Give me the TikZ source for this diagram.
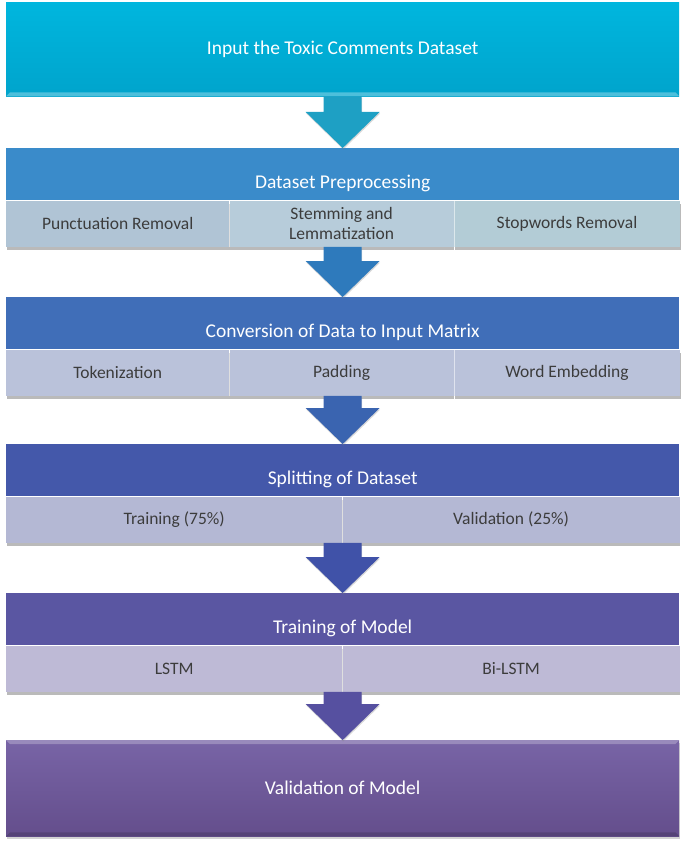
\documentclass[tikz,border=0pt]{standalone}
\usepackage{fontspec}
\setmainfont{Carlito}
\usepackage{tikz}
\usetikzlibrary{calc, positioning, shadows}

% Couleurs
\definecolor{bleuA}{RGB}{0,182,222}
\definecolor{bleuAb}{RGB}{0,164,204}
\definecolor{flecheA}{RGB}{30,160,196}
\definecolor{bleuB}{RGB}{58,139,202}
\definecolor{celB}{RGB}{176,196,213}
\definecolor{celBm}{RGB}{183,204,218}
\definecolor{celBd}{RGB}{179,204,214}
\definecolor{flecheB}{RGB}{46,122,188}
\definecolor{bleuC}{RGB}{64,110,184}
\definecolor{celC}{RGB}{186,194,218}
\definecolor{flecheC}{RGB}{58,100,176}
\definecolor{bleuD}{RGB}{68,88,170}
\definecolor{celD}{RGB}{180,184,212}
\definecolor{flecheD}{RGB}{64,82,168}
\definecolor{violetE}{RGB}{90,86,162}
\definecolor{celE}{RGB}{190,186,214}
\definecolor{flecheE}{RGB}{86,80,160}
\definecolor{violetF}{RGB}{120,100,166}
\definecolor{violetFb}{RGB}{100,78,140}
\definecolor{texteCel}{RGB}{60,60,60}

\tikzset{
  bloc/.style={anchor=north west, inner sep=0pt, minimum width=673pt, text=white,
    font=\fontsize{19.5}{23}\selectfont},
  entete/.style={bloc, minimum height=52pt, text height=29pt, text depth=0pt},
  cellule/.style={inner sep=0pt, minimum height=46pt, text=texteCel, align=center,
    font=\fontsize{17.5}{20}\selectfont,
    drop shadow={shadow xshift=0.5pt, shadow yshift=-3pt, fill=black!60, opacity=.45}},
  separation/.style={white, opacity=.55, line width=0.6pt}
}

% Fleche pleine entre deux blocs
\newcommand{\flecheBloc}[3]{
  \path let \p1=(#1.south), \p2=(#2.north) in
    [fill=#3, drop shadow={shadow xshift=0.5pt, shadow yshift=-1.5pt, opacity=.3}]
    (\x2-19pt,\y1) -- (\x2+19pt,\y1) -- (\x2+19pt,\y2+36pt) -- (\x2+37pt,\y2+36pt)
    -- (\x2,\y2) -- (\x2-37pt,\y2+36pt) -- (\x2-19pt,\y2+36pt) -- cycle;
}

\begin{document}
\begin{tikzpicture}[x=1pt, y=-1pt]
  \useasboundingbox (0,0) rectangle (685,845);

  % Blocs
  \node[bloc, minimum height=94pt, top color=bleuA, bottom color=bleuAb] (entree) at (6,2)
    {Input the Toxic Comments Dataset};

  \node[entete, fill=bleuB] (pretraitement) at (6,148) {Dataset Preprocessing};
  \node[cellule, fill=celB, minimum width=223pt, anchor=north west] (ponctuation)
    at (pretraitement.south west) {Punctuation Removal};
  \node[cellule, fill=celBm, minimum width=224pt, right=0pt of ponctuation] (racinisation)
    {Stemming and\\Lemmatization};
  \node[cellule, fill=celBd, minimum width=226pt, right=0pt of racinisation] (motsvides)
    {Stopwords Removal};

  \node[entete, fill=bleuC] (conversion) at (6,297) {Conversion of Data to Input Matrix};
  \node[cellule, fill=celC, minimum width=223pt, anchor=north west] (jetons)
    at (conversion.south west) {Tokenization};
  \node[cellule, fill=celC, minimum width=224pt, right=0pt of jetons] (remplissage) {Padding};
  \node[cellule, fill=celC, minimum width=226pt, right=0pt of remplissage] (plongement)
    {Word Embedding};

  \node[entete, fill=bleuD] (decoupage) at (6,444) {Splitting of Dataset};
  \node[cellule, fill=celD, minimum width=336pt, anchor=north west] (apprentissage)
    at (decoupage.south west) {Training (75\%)};
  \node[cellule, fill=celD, minimum width=337pt, right=0pt of apprentissage] (validation)
    {Validation (25\%)};

  \node[entete, fill=violetE] (entrainement) at (6,593) {Training of Model};
  \node[cellule, fill=celE, minimum width=336pt, anchor=north west] (lstm)
    at (entrainement.south west) {LSTM};
  \node[cellule, fill=celE, minimum width=337pt, right=0pt of lstm] (bilstm) {Bi-LSTM};

  \node[bloc, minimum height=96pt, top color=violetF, bottom color=violetFb,
    drop shadow={shadow xshift=0.5pt, shadow yshift=-3pt, opacity=.35}] (evaluation) at (6,740)
    {Validation of Model};

  % Separations des cellules
  \draw[separation] (ponctuation.north east) -- (ponctuation.south east);
  \draw[separation] (racinisation.north east) -- (racinisation.south east);
  \draw[separation] (jetons.north east) -- (jetons.south east);
  \draw[separation] (remplissage.north east) -- (remplissage.south east);
  \draw[separation] (apprentissage.north east) -- (apprentissage.south east);
  \draw[separation] (lstm.north east) -- (lstm.south east);

  % Reflets
  \fill[white, opacity=.3] (entree.south west) -- (entree.south east) -- ++(-4,-4)
    -- ($(entree.south west)+(4,-4)$) -- cycle;
  \fill[white, opacity=.25] (evaluation.north west) -- (evaluation.north east) -- ++(-4,4)
    -- ($(evaluation.north west)+(4,4)$) -- cycle;
  \fill[black, opacity=.15] (evaluation.south west) -- (evaluation.south east) -- ++(-4,-4)
    -- ($(evaluation.south west)+(4,-4)$) -- cycle;

  % Fleches
  \flecheBloc{entree}{pretraitement}{flecheA}
  \flecheBloc{racinisation}{conversion}{flecheB}
  \flecheBloc{remplissage}{decoupage}{flecheC}
  \flecheBloc{apprentissage}{entrainement}{flecheD}
  \flecheBloc{lstm}{evaluation}{flecheE}
\end{tikzpicture}
\end{document}
